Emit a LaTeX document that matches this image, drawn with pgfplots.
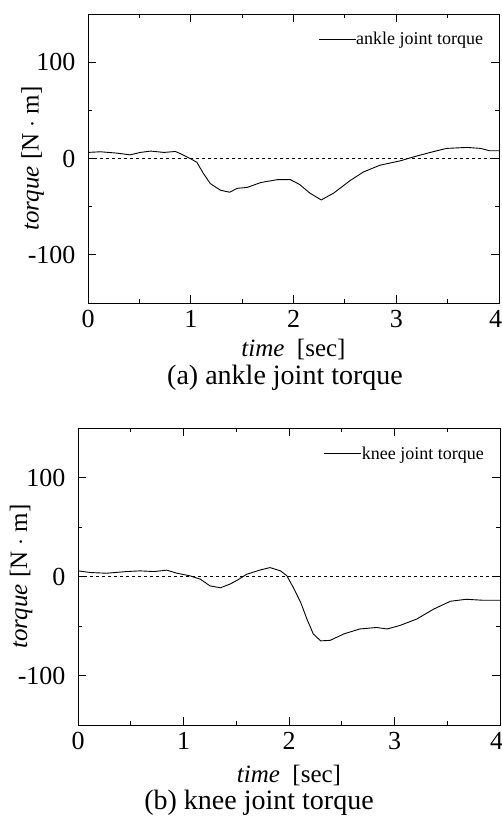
\documentclass[border=0pt]{standalone}
\usepackage{fontspec}
\setmainfont{Liberation Serif}
\usepackage{pgfplots}
\pgfplotsset{compat=1.18}

\newcommand{\figfont}{\fontsize{26}{29}\selectfont}
\pgfplotsset{
  torque/.style={
    scale only axis,
    xmin=0, xmax=4, ymin=-150, ymax=150,
    xtick={0,1,2,3,4}, xticklabels={0,1,2,3,\makebox[6pt][r]{4}},
    ytick={-100,0,100}, yticklabels={-100,0,100},
    minor x tick num=1, minor y tick num=1,
    tick align=inside, major tick length=8pt, minor tick length=4pt,
    tick style={black, line width=0.8pt},
    axis line style={line width=0.9pt},
    /pgf/number format/assume math mode=true,
    tick label style={font=\figfont},
    xticklabel style={yshift=-4pt},
    yticklabel style={xshift=-9pt},
    label style={font=\fontsize{25}{28}\selectfont},
    xlabel={\textit{time}~~[sec]},
    ylabel={\textit{torque}~[N $\cdot$ m]},
    ylabel style={at={(axis description cs:-0.135,0.5)}, anchor=center},
    legend style={draw=none, fill=none, at={(rel axis cs:0.962,0.945)},
      anchor=north east, font=\fontsize{18}{20}\selectfont,
      inner sep=0pt, nodes={inner xsep=0pt},
      /tikz/every even column/.append style={column sep=0pt}},
    legend image code/.code={\draw[#1] (0pt,0pt) -- (37pt,0pt);},
  },
}

\begin{document}
\begin{tikzpicture}
\useasboundingbox (0,0) rectangle (502pt,-816pt);

% (a) ankle
\begin{axis}[torque, at={(88pt,-14pt)}, anchor=north west,
  width=411pt, height=289pt, name=a, xlabel style={yshift=-4pt}]
\addplot[black, dashed, line width=0.8pt, forget plot] coordinates {(0,0)(4,0)};
\addplot[black, line width=0.9pt] coordinates {
  (0,6.3)(0.12,7)(0.28,5.6)(0.41,3.8)(0.51,6.3)(0.61,7.7)(0.74,6.3)
  (0.85,7.3)(0.91,4.5)(1.0,-0.3)(1.06,-4)(1.12,-15)(1.19,-26)
  (1.29,-33)(1.38,-35)(1.45,-31)(1.55,-30)(1.68,-25)(1.84,-22)
  (1.97,-22)(2.06,-27)(2.16,-36)(2.27,-43)(2.39,-36)(2.55,-23)
  (2.68,-14)(2.84,-7)(3.04,-2.4)(3.17,1.7)(3.33,6.3)(3.49,10.5)
  (3.69,11.5)(3.82,10.5)(3.91,8)(4.0,8)
};
\addlegendentry{ankle joint torque}
\end{axis}
\node[font=\fontsize{28}{31}\selectfont] at (285pt,-378pt) {(a) ankle joint torque};

% (b) knee
\begin{axis}[torque, at={(78pt,-428pt)}, anchor=north west,
  width=422pt, height=297pt, name=b, xlabel style={yshift=-8pt}]
\addplot[black, dashed, line width=0.8pt, forget plot] coordinates {(0,0)(4,0)};
\addplot[black, line width=0.9pt] coordinates {
  (0,5.7)(0.12,4)(0.27,3.3)(0.46,5)(0.59,5.7)(0.72,5)(0.84,6.4)
  (0.94,3.3)(1.06,0.7)(1.16,-2.7)(1.25,-9.4)(1.35,-11.4)(1.44,-7.7)
  (1.51,-3.7)(1.60,2.3)(1.73,6.7)(1.82,9)(1.92,5.7)(1.98,0.7)
  (2.04,-11)(2.11,-26)(2.17,-43)(2.23,-58)(2.30,-65)(2.39,-64.5)
  (2.52,-58)(2.67,-53)(2.83,-51.5)(2.93,-53)(3.05,-49.5)(3.21,-43)
  (3.37,-33)(3.53,-25)(3.68,-23)(3.84,-24)(4.0,-24)
};
\addlegendentry{knee joint torque}
\end{axis}
\node[font=\fontsize{28}{31}\selectfont] at (259pt,-803pt) {(b) knee joint torque};
\end{tikzpicture}
\end{document}
